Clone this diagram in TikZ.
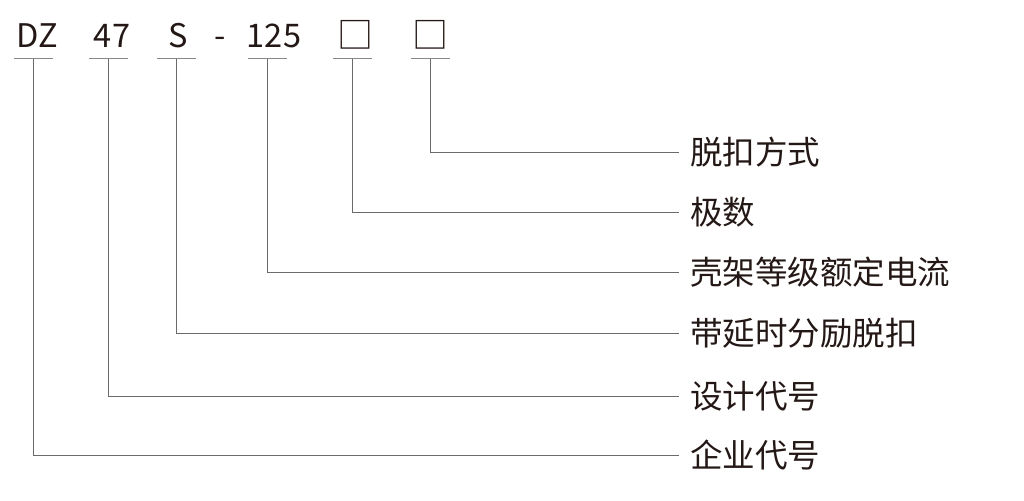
\documentclass[tikz,border=0pt]{standalone}
\usepackage{fontspec}
\setmainfont{Noto Sans CJK SC}
\definecolor{ink}{HTML}{231815}
\definecolor{leadgray}{HTML}{6A6A6A}
\tikzset{
  code/.style={anchor=base, inner sep=0pt, text=ink},
  blank/.style={code, font=\fontsize{36}{38}\selectfont},
  label/.style={anchor=west, inner sep=0pt, outer xsep=11pt, text=ink},
  tick/.style={draw=leadgray!80, line width=1pt},
  lead/.style={draw=leadgray, line width=0.9pt}
}
\begin{document}
\begin{tikzpicture}[x=1pt, y=-1pt, font=\fontsize{32.5}{35}\selectfont]
  \useasboundingbox (0,0) rectangle (1024,500);
  % model code
  \draw
  (37,48) node[code](cDZ){DZ} (112,48) node[code](c47){47} (178,48) node[code](cS){S}
  (220,48) node[code](cdash){-} (274,48) node[code](c125){125}
  (355,49) node[blank](cA){□} (430,49) node[blank](cB){□};
  % explanations
  \draw
  (679,152) node[label](lB){脱扣方式} (679,212) node[label](lA){极数}
  (679,272) node[label](l125){壳架等级额定电流} (679,333) node[label](lS){带延时分励脱扣}
  (679,396) node[label](l47){设计代号} (679,455) node[label](lDZ){企业代号};

  \foreach \n/\x in {DZ/33, 47/108, S/176, 125/267, A/352, B/430}{
    \coordinate (u\n) at (\x,59);
    \draw[tick] ([xshift=-19pt]u\n) -- ([xshift=20pt]u\n);
    \draw[lead] (u\n) |- (l\n.west);
  }
\end{tikzpicture}
\end{document}
